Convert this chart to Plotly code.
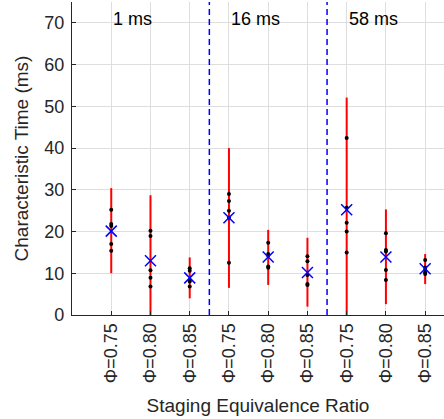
import plotly.graph_objects as go

# ---- data ----
positions = [1, 2, 3, 4, 5, 6, 7, 8, 9]
tick_labels = ["Φ=0.75", "Φ=0.80", "Φ=0.85"] * 3
group_labels = ["1 ms", "16 ms", "58 ms"]
group_label_x = [1, 4, 7]
separators = [3.5, 6.5]

samples = [
    [25.2, 21.8, 21.3, 17.0, 15.4],
    [20.2, 18.9, 10.7, 8.9, 6.8],
    [11.2, 10.6, 8.4, 8.0, 6.8],
    [29.0, 27.3, 25.0, 23.3, 12.5],
    [17.3, 14.6, 14.2, 11.6, 11.3],
    [14.1, 12.9, 9.6, 7.4, 7.2],
    [42.4, 25.7, 22.1, 20.0, 15.0],
    [19.6, 15.6, 15.2, 10.8, 8.4],
    [13.2, 11.4, 10.8, 10.2, 9.8],
]
means = [20.1, 13.0, 8.9, 23.3, 13.9, 10.2, 25.2, 13.9, 11.1]
err_hi = [30.4, 28.7, 13.8, 40.0, 20.4, 18.5, 52.1, 25.3, 14.6]
err_lo = [10.0, -2.7, 4.0, 6.5, 7.2, 2.0, -1.7, 2.6, 7.4]

TXT = "#262626"
FONT = "Liberation Sans, Arial, sans-serif"

fig = go.Figure()

# error bars (red vertical lines)
ex, ey = [], []
for p, lo, hi in zip(positions, err_lo, err_hi):
    ex += [p, p, None]
    ey += [lo, hi, None]
fig.add_trace(go.Scatter(x=ex, y=ey, mode="lines",
                         line=dict(color="#ff0000", width=2),
                         hoverinfo="skip", showlegend=False))

# sample dots
dx, dy = [], []
for p, s in zip(positions, samples):
    dx += [p] * len(s)
    dy += s
fig.add_trace(go.Scatter(x=dx, y=dy, mode="markers",
                         marker=dict(color="black", size=4),
                         showlegend=False))

# means
fig.add_trace(go.Scatter(x=positions, y=means, mode="markers",
                         marker=dict(symbol="x-thin", size=11,
                                     line=dict(color="#0000ff", width=1.5)),
                         showlegend=False))

for s in separators:
    fig.add_shape(type="line", x0=s, x1=s, y0=0, y1=1, yref="paper",
                  line=dict(color="#0000ff", width=1.5, dash="6px,4px"))

for t, gx in zip(group_labels, group_label_x):
    fig.add_annotation(x=gx, y=71, text=t, showarrow=False,
                       xanchor="left", yanchor="middle",
                       font=dict(size=18, color="black", family=FONT))

fig.update_layout(
    width=444, height=419,
    margin=dict(l=72, r=0, t=2, b=104),
    paper_bgcolor="white", plot_bgcolor="white",
    font=dict(family=FONT, color=TXT, size=18),
    showlegend=False,
)
fig.update_xaxes(
    range=[0, 9.48], tickmode="array", tickvals=positions, ticktext=tick_labels,
    tickangle=-90, showgrid=True, gridcolor="#dedede", gridwidth=1,
    showline=True, linecolor=TXT, linewidth=1.2, zeroline=False,
    ticks="inside", ticklen=4, tickcolor=TXT,
    tickfont=dict(size=18, color=TXT),
    title=dict(text="Staging Equivalence Ratio", font=dict(size=19, color=TXT), standoff=16),
)
fig.update_yaxes(
    range=[0, 75], tickvals=[0, 10, 20, 30, 40, 50, 60, 70],
    showgrid=True, gridcolor="#dedede", gridwidth=1,
    showline=True, linecolor=TXT, linewidth=1.2, zeroline=False,
    ticks="inside", ticklen=4, tickcolor=TXT, ticklabelstandoff=3,
    tickfont=dict(size=18, color=TXT),
    title=dict(text="Characteristic Time (ms)", font=dict(size=19, color=TXT), standoff=10),
)

fig.write_html("out.html")
